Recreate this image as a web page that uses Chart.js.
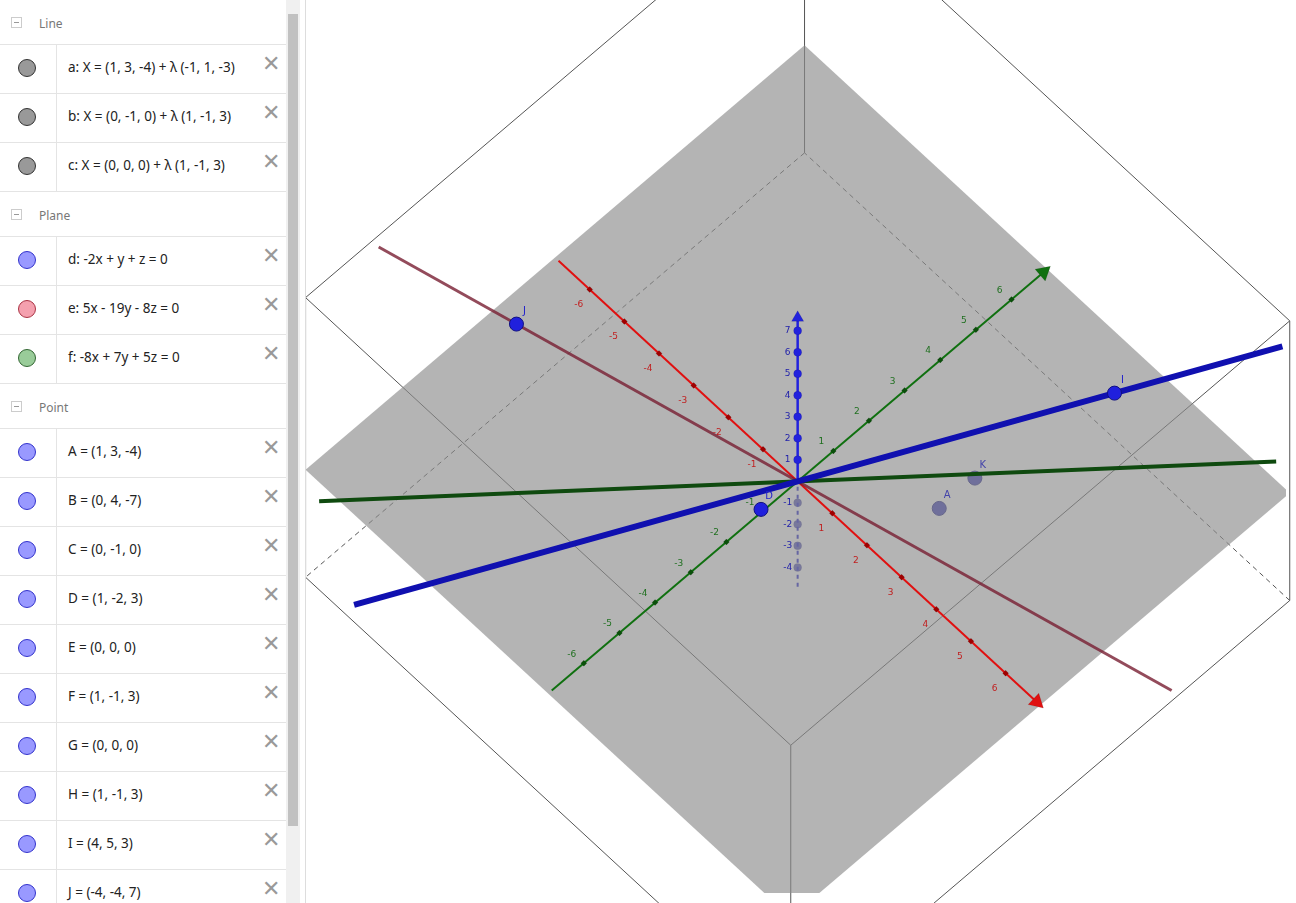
<!DOCTYPE html>
<html>
<head>
<meta charset="utf-8">
<script src="https://cdn.jsdelivr.net/npm/chart.js@4.4.1/dist/chart.umd.min.js"></script>
<style>
  body { margin: 0; width: 1296px; height: 903px; overflow: hidden; background: #fff; font-family: "Noto Sans", "DejaVu Sans", sans-serif; }
  #chartWrap { position: absolute; left: 0; top: 0; width: 1296px; height: 903px; }
  #algebra { position: absolute; left: 0; top: 0; width: 286px; height: 903px; background: #fff; overflow: hidden; }
  #scroll { position: absolute; left: 286px; top: 0; width: 14px; height: 903px; background: #f0f0f0; }
  #thumb { position: absolute; left: 2px; top: 14px; width: 10px; height: 812px; background: #c1c1c1; }
  #divider { position: absolute; left: 305px; top: 0; width: 1px; height: 903px; background: #ddd; }
  .hdr { height: 44px; border-bottom: 1px solid #e4e4e4; position: relative; font-size: 12px; color: #777; }
  .hdr span.m { position: absolute; left: 11px; top: 17px; width: 11px; height: 11px; border: 1px solid #ccc; box-sizing: border-box; }
  .hdr span.m::after { content: ""; position: absolute; left: 2px; top: 4px; width: 5px; height: 1px; background: #999; }
  .hdr span.t { position: absolute; left: 39px; top: 15px; }
  .row { height: 48px; border-bottom: 1px solid #e4e4e4; position: relative; font-size: 13.5px; color: #222; }
  .row .dot { position: absolute; left: 18px; top: 14px; width: 18px; height: 18px; border-radius: 50%; box-sizing: border-box; border: 1px solid #333; }
  .row .col { position: absolute; left: 56px; top: 0; width: 1px; height: 48px; background: #e4e4e4; }
  .row .t { position: absolute; left: 68px; top: 13px; white-space: nowrap; }
  .row .x { position: absolute; left: 262px; top: 2px; font-size: 22px; color: #999; font-weight: 300; }
</style>
</head>
<body>
<div id="chartWrap"><canvas id="view3d"></canvas></div>
<div id="algebra"></div>
<div id="scroll"><div id="thumb"></div></div>
<div id="divider"></div>
<script>
// ---- algebra view entries ----
const sections = [
  { title: 'Line', items: [
    ['a: X = (1, 3, -4) + λ (-1, 1, -3)', '#999'],
    ['b: X = (0, -1, 0) + λ (1, -1, 3)', '#999'],
    ['c: X = (0, 0, 0) + λ (1, -1, 3)', '#999']] },
  { title: 'Plane', items: [
    ['d: -2x + y + z = 0', '#9999ff'],
    ['e: 5x - 19y - 8z = 0', '#f4a0ae'],
    ['f: -8x + 7y + 5z = 0', '#99cc99']] },
  { title: 'Point', items: [
    ['A = (1, 3, -4)', '#9999ff'], ['B = (0, 4, -7)', '#9999ff'],
    ['C = (0, -1, 0)', '#9999ff'], ['D = (1, -2, 3)', '#9999ff'],
    ['E = (0, 0, 0)', '#9999ff'], ['F = (1, -1, 3)', '#9999ff'],
    ['G = (0, 0, 0)', '#9999ff'], ['H = (1, -1, 3)', '#9999ff'],
    ['I = (4, 5, 3)', '#9999ff'], ['J = (-4, -4, 7)', '#9999ff']] }
];
const dotBorder = { '#999': '#333', '#9999ff': '#3333cc', '#f4a0ae': '#aa3344', '#99cc99': '#336633' };
let html = '';
sections.forEach(s => {
  html += `<div class="hdr"><span class="m"></span><span class="t">${s.title}</span></div>`;
  s.items.forEach(([txt, c]) => {
    html += `<div class="row"><span class="dot" style="background:${c};border-color:${dotBorder[c]}"></span><span class="col"></span><span class="t">${txt}</span><span class="x">✕</span></div>`;
  });
});
document.getElementById('algebra').innerHTML = html;

// ---- 3D scene data ----
const boxX = [-7, 7];
const boxY = [-7, 7];
const boxZ = [-5, 8];
const axisXRange = [-6.9, 6.9];
const axisYRange = [-6.9, 6.9];
const axisZRange = [-4.9, 7.6];
const xTicks = [-6, -5, -4, -3, -2, -1, 1, 2, 3, 4, 5, 6];
const yTicks = [-6, -5, -4, -3, -2, -1, 1, 2, 3, 4, 5, 6];
const zTicks = [-4, -3, -2, -1, 1, 2, 3, 4, 5, 6, 7];
const pointNames = ['A', 'K', 'D', 'I', 'J'];
const pointCoords = [[1, 3, -4], [1, 4, -4], [1, -2, 3], [4, 5, 3], [-4, -4, 7]];
const pointBehind = [true, true, false, false, false];
// plane sheets seen nearly edge-on: direction and parameter range
const sheetRed = { dir: [-4, -4, 7], t: [-1.33, 1.49] };
const sheetBlue = { dir: [4, 5, 3], t: [-1.4, 1.53] };
const sheetGreen = { dir: [6.3, 7.3, 0], t: [-1, 1] };

// view projection (screen pixels per unit)
function proj(p) {
  return { x: 800 + 35.2 * p[0] + 36.2 * p[1], y: 482 + 32.7 * p[0] - 31 * p[1] - 22 * p[2] };
}
function seg(a, b) { return [proj(a), proj(b)]; }

const datasets = [];
function lineDs(pts, color, width, order, dash) {
  datasets.push({ type: 'line', data: pts, borderColor: color, borderWidth: width, pointRadius: 0,
    borderDash: dash || [], order: order, fill: false, tension: 0, clip: false });
}

// bounding box edges
const [x0, x1] = boxX, [y0, y1] = boxY, [z0, z1] = boxZ;
const corners = [];
[x0, x1].forEach(x => [y0, y1].forEach(y => corners.push([x, y])));
corners.forEach(([x, y]) => lineDs(seg([x, y, z0], [x, y, z1]), '#555', 1, 20));
[z0, z1].forEach(z => {
  const back = z === z0;
  lineDs(seg([x0, y0, z], [x1, y0, z]), '#555', 1, 20);
  lineDs(seg([x1, y0, z], [x1, y1, z]), '#555', 1, 20);
  lineDs(seg([x1, y1, z], [x0, y1, z]), '#555', 1, 20, back ? [5, 4] : []);
  lineDs(seg([x0, y1, z], [x0, y0, z]), '#555', 1, 20, back ? [5, 4] : []);
});

// negative z axis (behind plane) dashed
lineDs(seg([0, 0, axisZRange[0]], [0, 0, 0]), '#2222cc', 2, 15, [4, 4]);
datasets.push({ type: 'scatter', data: zTicks.filter(t => t < 0).map(t => proj([0, 0, t])),
  backgroundColor: '#5555bb', pointRadius: 4, order: 15 });

// behind points
pointCoords.forEach((p, i) => {
  if (pointBehind[i]) datasets.push({ type: 'scatter', data: [proj(p)], backgroundColor: '#3a3ab8',
    borderColor: '#222288', pointRadius: 7, order: 14 });
});

// the xy plane (gray)
const plane = [[x0, y0, 0], [x1, y0, 0], [x1, y1, 0], [x0, y1, 0], [x0, y0, 0]].map(proj);
datasets.push({ type: 'line', data: plane, borderColor: 'rgba(0,0,0,0)', borderWidth: 0, pointRadius: 0,
  backgroundColor: 'rgba(140,140,140,0.65)', fill: 'shape', order: 10, clip: false });

// axes
function arrowRot(a, b) { return Math.atan2(b.y - a.y, b.x - a.x) * 180 / Math.PI + 90; }
function axis(dirVec, range, ticks, color, tickColor) {
  const a = proj(dirVec.map(v => v * range[0])), b = proj(dirVec.map(v => v * range[1]));
  lineDs([a, b], color, 2, 5);
  datasets.push({ type: 'scatter', data: ticks.map(t => proj(dirVec.map(v => v * t))),
    backgroundColor: tickColor, pointStyle: 'rectRot', pointRadius: 3, order: 4 });
  datasets.push({ type: 'scatter', data: [b], backgroundColor: color, pointStyle: 'triangle',
    pointRadius: 9, rotation: arrowRot(a, b), order: 4 });
}
axis([1, 0, 0], axisXRange, xTicks, '#e01010', '#a00000');
axis([0, 1, 0], axisYRange, yTicks, '#107010', '#0a500a');
lineDs(seg([0, 0, 0], [0, 0, axisZRange[1]]), '#2222dd', 2.5, 5);
datasets.push({ type: 'scatter', data: zTicks.filter(t => t > 0).map(t => proj([0, 0, t])),
  backgroundColor: '#2222dd', pointRadius: 4, order: 4 });
datasets.push({ type: 'scatter', data: [proj([0, 0, axisZRange[1]])], backgroundColor: '#2222dd',
  pointStyle: 'triangle', pointRadius: 7, order: 4 });

// plane sheets
function sheet(s, color, width, order) {
  lineDs(seg(s.dir.map(v => v * s.t[0]), s.dir.map(v => v * s.t[1])), color, width, order);
}
sheet(sheetRed, 'rgba(120,30,50,0.8)', 3, 3);
sheet(sheetGreen, '#0f4a0f', 4, 2);
sheet(sheetBlue, '#1010b0', 6, 1);

// front points
pointCoords.forEach((p, i) => {
  if (!pointBehind[i]) datasets.push({ type: 'scatter', data: [proj(p)], backgroundColor: '#2020dd',
    borderColor: '#101080', pointRadius: 7, order: 0 });
});

// text labels on axes and points
const labelPlugin = {
  id: 'labels3d',
  afterDatasetsDraw(chart) {
    const ctx = chart.ctx, sx = chart.scales.x, sy = chart.scales.y;
    const at = (p, dx, dy, txt, color) => {
      const q = proj(p);
      ctx.fillStyle = color;
      ctx.fillText(txt, sx.getPixelForValue(q.x) + dx, sy.getPixelForValue(q.y) + dy);
    };
    ctx.save();
    ctx.font = '9px "DejaVu Sans", sans-serif';
    ctx.textAlign = 'center';
    ctx.textBaseline = 'middle';
    xTicks.forEach(t => at([t, 0, 0], -11, 15, String(t), '#c02020'));
    yTicks.forEach(t => at([0, t, 0], -12, -9, String(t), '#207020'));
    zTicks.forEach(t => at([0, 0, t], -10, 0, String(t), '#2222aa'));
    ctx.font = '10px "DejaVu Sans", sans-serif';
    pointNames.forEach((n, i) => at(pointCoords[i], 8, -13, n, pointBehind[i] ? '#4444aa' : '#2222cc'));
    ctx.restore();
  }
};

new Chart(document.getElementById('view3d'), {
  type: 'scatter',
  data: { datasets: datasets },
  options: {
    responsive: true,
    maintainAspectRatio: false,
    animation: false,
    layout: { padding: 0 },
    plugins: { legend: { display: false }, tooltip: { enabled: false } },
    scales: {
      x: { type: 'linear', min: 0, max: 1296, display: false },
      y: { type: 'linear', min: 0, max: 903, reverse: true, display: false }
    }
  },
  plugins: [labelPlugin]
});
</script>
</body>
</html>
